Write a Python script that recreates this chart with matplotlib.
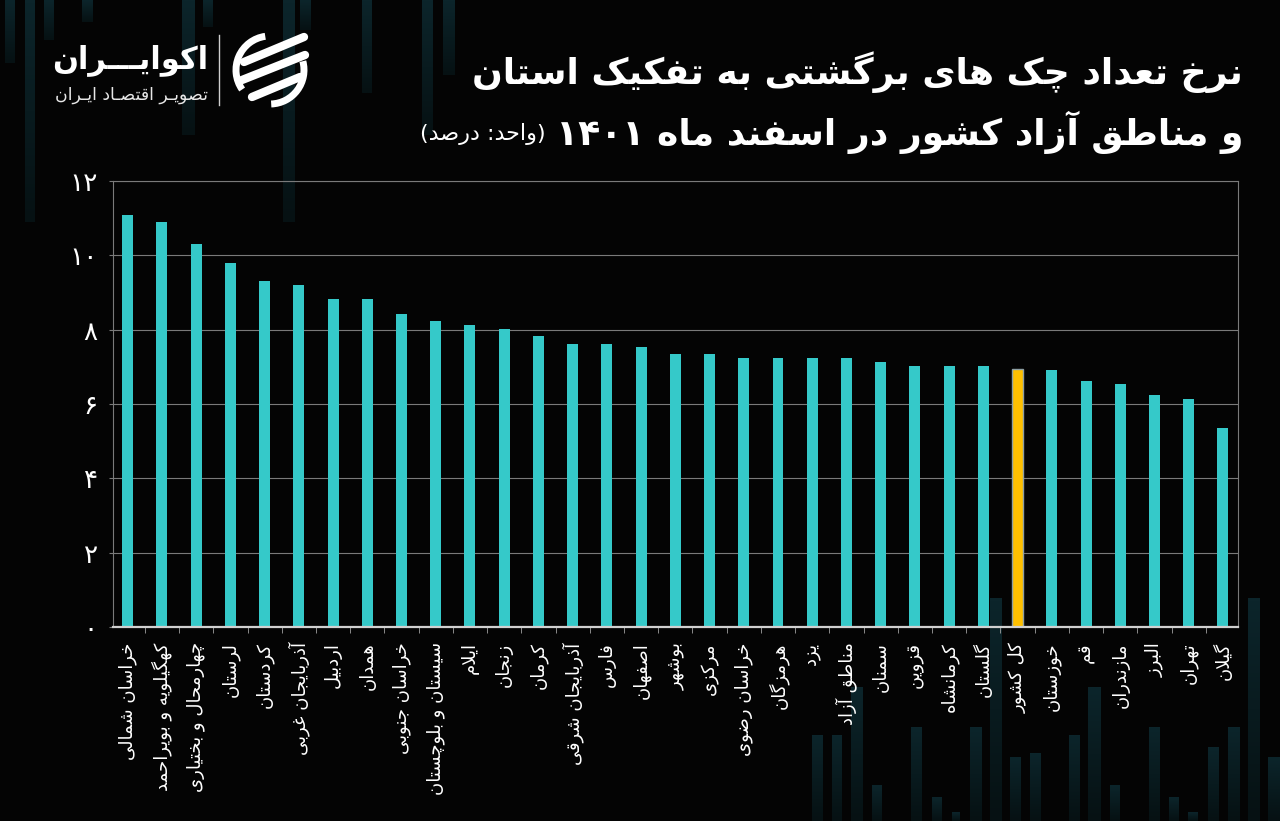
import matplotlib
matplotlib.use("Agg")
import matplotlib.pyplot as plt
import numpy as np
from matplotlib.patches import Arc
from matplotlib.colors import LinearSegmentedColormap

# ---- data ----
provinces = [
    "خراسان شمالی", "کهگیلویه و بویراحمد", "چهارمحال و بختیاری", "لرستان",
    "کردستان", "آذربایجان غربی", "اردبیل", "همدان", "خراسان جنوبی",
    "سیستان و بلوچستان", "ایلام", "زنجان", "کرمان", "آذربایجان شرقی",
    "فارس", "اصفهان", "بوشهر", "مرکزی", "خراسان رضوی", "هرمزگان", "یزد",
    "مناطق آزاد", "سمنان", "قزوین", "کرمانشاه", "گلستان", "کل کشور",
    "خوزستان", "قم", "مازندران", "البرز", "تهران", "گیلان",
]
rates = [
    11.08, 10.89, 10.30, 9.80, 9.30, 9.19, 8.82, 8.82, 8.42, 8.23, 8.12,
    8.02, 7.82, 7.62, 7.62, 7.53, 7.34, 7.34, 7.23, 7.23, 7.23, 7.23,
    7.12, 7.02, 7.02, 7.02, 6.93, 6.91, 6.63, 6.53, 6.23, 6.13, 5.35,
]
highlight = "کل کشور"
y_ticks = [0, 2, 4, 6, 8, 10, 12]

title_line1 = "نرخ تعداد چک های برگشتی به تفکیک استان"
title_line2 = "و مناطق آزاد کشور در اسفند ماه ۱۴۰۱"
unit_note = "(واحد: درصد)"
brand = "اکوایـــران"
brand_sub = "تصویـر اقتصـاد ایـران"

BG = "#040404"
CYAN = "#35c9c9"
GOLD = "#ffc000"
GRID = "#7a7a7a"

# ---- minimal arabic/persian shaping + rtl ordering (no reshaper lib available) ----
DUAL = {
    "ئ": 0xFE89, "ب": 0xFE8F, "ت": 0xFE95, "ث": 0xFE99, "ج": 0xFE9D, "ح": 0xFEA1,
    "خ": 0xFEA5, "س": 0xFEB1, "ش": 0xFEB5, "ص": 0xFEB9, "ض": 0xFEBD, "ط": 0xFEC1,
    "ظ": 0xFEC5, "ع": 0xFEC9, "غ": 0xFECD, "ف": 0xFED1, "ق": 0xFED5, "ك": 0xFED9,
    "ل": 0xFEDD, "م": 0xFEE1, "ن": 0xFEE5, "ه": 0xFEE9, "ي": 0xFEF1, "پ": 0xFB56,
    "چ": 0xFB7A, "ک": 0xFB8E, "گ": 0xFB92, "ی": 0xFBFC,
}
RIGHT = {
    "آ": 0xFE81, "أ": 0xFE83, "ؤ": 0xFE85, "إ": 0xFE87, "ا": 0xFE8D, "ة": 0xFE93,
    "د": 0xFEA9, "ذ": 0xFEAB, "ر": 0xFEAD, "ز": 0xFEAF, "و": 0xFEED, "ى": 0xFEEF,
    "ژ": 0xFB8A,
}
LAM_ALEF = {"آ": 0xFEF5, "أ": 0xFEF7, "إ": 0xFEF9, "ا": 0xFEFB}
TATWEEL = "\u0640"
LTR_CHARS = set("0123456789۰۱۲۳۴۵۶۷۸۹.")
MIRROR = {"(": ")", ")": "("}


def shape(text):
    chars = list(text)
    out = []
    i = 0
    while i < len(chars):
        ch = chars[i]
        prev_joins = i > 0 and (chars[i - 1] in DUAL or chars[i - 1] == TATWEEL)
        nxt = chars[i + 1] if i + 1 < len(chars) else ""
        if ch == "ل" and nxt in LAM_ALEF:
            out.append(chr(LAM_ALEF[nxt] + (1 if prev_joins else 0)))
            i += 2
            continue
        if ch in DUAL:
            next_joins = nxt in DUAL or nxt in RIGHT or nxt == TATWEEL
            form = {(True, True): 3, (True, False): 1,
                    (False, True): 2, (False, False): 0}[(prev_joins, next_joins)]
            out.append(chr(DUAL[ch] + form))
        elif ch in RIGHT:
            out.append(chr(RIGHT[ch] + (1 if prev_joins else 0)))
        else:
            out.append(ch)
        i += 1
    return "".join(out)


def rtl(text):
    tokens, run = [], ""
    for ch in shape(text):
        if ch in LTR_CHARS:
            run += ch
            continue
        if run:
            tokens.append(run)
            run = ""
        tokens.append(MIRROR.get(ch, ch))
    if run:
        tokens.append(run)
    return "".join(reversed(tokens))


def fa_digits(n):
    return str(n).translate(str.maketrans("0123456789", "۰۱۲۳۴۵۶۷۸۹"))


plt.rcParams["font.family"] = ["DejaVu Sans"]

W, H = 1280, 821
fig = plt.figure(figsize=(W / 100, H / 100), dpi=100, facecolor=BG)

# ---- background layer in pixel coordinates (decorative stripes, logo) ----
bg = fig.add_axes([0, 0, 1, 1], zorder=0)
bg.axis("off")

stripe_cmap = LinearSegmentedColormap.from_list("stripe", ["#061113", "#0c252b"])
grad = np.linspace(1, 0, 64).reshape(-1, 1)
top_stripes = [(5, 15, 63), (25, 35, 222), (44, 54, 40), (82, 93, 22), (182, 195, 135),
               (203, 213, 27), (283, 295, 222), (300, 311, 30), (362, 372, 93),
               (422, 433, 135), (443, 455, 75)]
bottom_stripes = [(812, 823, 735), (832, 842, 735), (851, 863, 687), (872, 882, 785),
                  (911, 922, 727), (932, 942, 797), (952, 960, 812), (970, 982, 727),
                  (990, 1002, 598), (1010, 1021, 757), (1030, 1041, 753),
                  (1069, 1080, 735), (1088, 1101, 687), (1110, 1120, 785),
                  (1149, 1160, 727), (1169, 1179, 797), (1188, 1198, 812),
                  (1208, 1219, 747), (1228, 1240, 727), (1248, 1260, 598),
                  (1268, 1280, 757)]
for x0, x1, y1 in top_stripes:
    bg.imshow(grad, extent=(x0, x1, y1, 0), cmap=stripe_cmap, aspect="auto",
              vmin=0, vmax=1, interpolation="bilinear")
for x0, x1, y0 in bottom_stripes:
    bg.imshow(grad, extent=(x0, x1, H, y0), cmap=stripe_cmap, aspect="auto",
              vmin=0, vmax=1, interpolation="bilinear")
bg.set_xlim(0, W)
bg.set_ylim(H, 0)

# logo
bg.text(208, 60, rtl(brand), ha="right", va="center", fontsize=22,
        fontweight="bold", color="white")
bg.text(208, 95, rtl(brand_sub), ha="right", va="center", fontsize=12.5, color="#e8e8e8")
bg.plot([219, 219], [35, 105], color="#cfcfcf", lw=1)
cx, cy, r = 270, 70, 34
bg.add_patch(Arc((cx, cy), 2 * r, 2 * r, theta1=145, theta2=262, lw=5, color="white"))
bg.add_patch(Arc((cx, cy), 2 * r, 2 * r, theta1=-15, theta2=88, lw=5, color="white"))
for (xa, ya), (xb, yb) in [((244, 62), (304, 37)), ((242, 80), (305, 55)),
                           ((252, 97), (300, 77))]:
    bg.plot([xa, xb], [ya, yb], color="white", lw=6, solid_capstyle="round")

# ---- titles ----
fig.text(1243 / W, 1 - 72 / H, rtl(title_line1), ha="right", va="center",
         fontsize=26, fontweight="bold", color="white")
t2 = fig.text(1243 / W, 1 - 132 / H, rtl(title_line2), ha="right", va="center",
              fontsize=26, fontweight="bold", color="white")
renderer = fig.canvas.get_renderer()
left_px = t2.get_window_extent(renderer).x0
fig.text((left_px - 10) / W, 1 - 134 / H, rtl(unit_note), ha="right", va="center",
         fontsize=16, color="white")

# ---- chart ----
ax = fig.add_axes([113 / W, 194 / H, 1125 / W, 446 / H], zorder=2)
ax.patch.set_alpha(0)
x = np.arange(len(provinces))
colors = [GOLD if p == highlight else CYAN for p in provinces]
bars = ax.bar(x, rates, width=0.32, color=colors, zorder=3)
for bar, p in zip(bars, provinces):
    if p == highlight:
        bar.set_edgecolor("#8d9ea3")
        bar.set_linewidth(1)

ax.set_xlim(-0.43, len(provinces) - 1 + 0.44)
ax.set_ylim(0, 12)
ax.set_yticks(y_ticks)
ax.set_yticklabels([fa_digits(v) for v in y_ticks])
ax.grid(axis="y", color=GRID, lw=0.8)
ax.set_axisbelow(True)
for side in ("left", "top", "right"):
    ax.spines[side].set_color(GRID)
    ax.spines[side].set_linewidth(0.8)
ax.spines["bottom"].set_color("#d0d0d0")
ax.spines["bottom"].set_linewidth(1.6)
ax.spines["bottom"].set_zorder(4)
ax.tick_params(axis="y", length=3, color=GRID, labelcolor="white", labelsize=19, pad=8)

ax.set_xticks(x)
ax.set_xticklabels([rtl(p) for p in provinces], rotation=90, fontsize=13, color="white")
ax.set_xticks(x[:-1] + 0.5, minor=True)
ax.tick_params(axis="x", which="major", length=0, pad=11)
ax.tick_params(axis="x", which="minor", length=4, color="#a0a0a0")

fig.savefig("out.png", dpi=100, facecolor=BG)
